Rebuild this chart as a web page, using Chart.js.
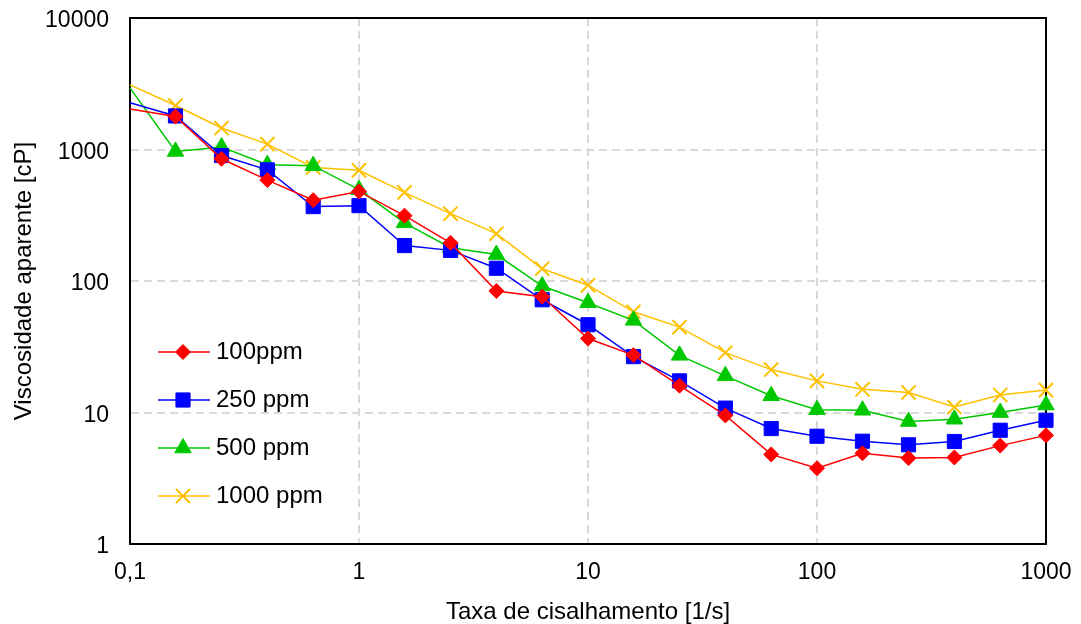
<!DOCTYPE html>
<html lang="pt">
<head>
<meta charset="utf-8">
<title>Viscosidade aparente</title>
<script src="https://cdn.jsdelivr.net/npm/chart.js@4/dist/chart.umd.min.js"></script>
<style>
  html, body { margin: 0; padding: 0; background: #fff; }
  canvas { display: block; }
</style>
</head>
<body>
<canvas id="viscosidadeChart" width="1081" height="624"></canvas>
<script>
// Taxa de cisalhamento [1/s] (5 pontos por década)
const taxaCisalhamento = [0.1, 0.158, 0.251, 0.398, 0.631, 1, 1.58, 2.51, 3.98, 6.31,
    10, 15.8, 25.1, 39.8, 63.1, 100, 158, 251, 398, 631, 1000];

// Viscosidade aparente [cP] para cada concentração
const visc100ppm = [2030, 1780, 850, 585, 412, 480, 314, 195, 84, 76,
    36.5, 27.3, 16, 9.5, 4.8, 3.77, 4.9, 4.5, 4.55, 5.6, 6.7];
const visc250ppm = [2265, 1800, 900, 700, 368, 374, 186, 171, 125, 72,
    46.5, 26.6, 17.4, 10.8, 7.55, 6.6, 6.05, 5.68, 6.02, 7.33, 8.73];
const visc500ppm = [2945, 966, 1043, 766, 753, 495, 277, 179, 159, 91.5,
    68.4, 50.2, 27.2, 19, 13.4, 10.5, 10.4, 8.53, 8.89, 10, 11.4];
const visc1000ppm = [3100, 2160, 1456, 1099, 731, 694, 472, 325, 229, 124,
    92.9, 58.3, 44.6, 28.5, 21.2, 17.4, 15, 14.2, 11, 13.6, 14.8];

const rotulosSeries = ['100ppm', '250 ppm', '500 ppm', '1000 ppm'];

// Marcas dos eixos
const ticksX = [0.1, 1, 10, 100, 1000];
const ticksY = [1, 10, 100, 1000, 10000];

const FONTE = "'Liberation Sans', Arial, sans-serif";

const estilos = [
    { cor: '#FF0000', ponto: 'rectRot', raio: 7.5 },
    { cor: '#0000FF', ponto: 'rect', raio: 10 },
    { cor: '#00C800', ponto: 'triangle', raio: 9.5 },
    { cor: '#FFC000', ponto: 'crossRot', raio: 10 }
];

function montarSerie(valores, i) {
    const e = estilos[i];
    return {
        label: rotulosSeries[i],
        data: taxaCisalhamento.map((x, k) => ({ x: x, y: valores[k] })),
        borderColor: e.cor,
        backgroundColor: e.cor,
        borderWidth: 1.5,
        pointStyle: e.ponto,
        // o primeiro ponto fica sem marcador, só a linha
        pointRadius: ctx => ctx.dataIndex === 0 ? 0 : e.raio,
        pointBorderWidth: e.ponto === 'crossRot' ? 2 : 1,
        pointHoverRadius: e.raio,
        tension: 0,
        clip: 14
    };
}

// Moldura completa da área do gráfico (topo e direita)
const moldura = {
    id: 'moldura',
    beforeDatasetsDraw(chart) {
        const { ctx, chartArea: a } = chart;
        ctx.save();
        ctx.strokeStyle = '#000';
        ctx.lineWidth = 2;
        ctx.strokeRect(a.left, a.top, a.right - a.left, a.bottom - a.top);
        ctx.restore();
    }
};

// Legenda desenhada dentro da área do gráfico
const legendaInterna = {
    id: 'legendaInterna',
    afterDatasetsDraw(chart) {
        const { ctx, chartArea: a } = chart;
        const x0 = a.left + 28, x1 = a.left + 80, xm = a.left + 53;
        ctx.save();
        chart.data.datasets.forEach((ds, i) => {
            const y = 352 + i * 48;
            const e = estilos[i];
            ctx.strokeStyle = e.cor;
            ctx.fillStyle = e.cor;
            ctx.lineWidth = 1.5;
            ctx.beginPath();
            ctx.moveTo(x0, y);
            ctx.lineTo(x1, y);
            ctx.stroke();
            ctx.lineWidth = e.ponto === 'crossRot' ? 2 : 1;
            Chart.helpers.drawPoint(ctx, {
                pointStyle: e.ponto, radius: e.raio, rotation: 0, borderWidth: ctx.lineWidth
            }, xm, y);
            ctx.fillStyle = '#000';
            ctx.font = '24px ' + FONTE;
            ctx.textAlign = 'left';
            ctx.textBaseline = 'middle';
            ctx.fillText(ds.label, a.left + 86, y);
        });
        ctx.restore();
    }
};

const formatarNumero = v => String(v).replace('.', ',');

const ctx = document.getElementById('viscosidadeChart').getContext('2d');
const grafico = new Chart(ctx, {
    type: 'line',
    data: {
        datasets: [visc100ppm, visc250ppm, visc500ppm, visc1000ppm].map(montarSerie)
    },
    options: {
        responsive: false,
        animation: false,
        layout: { autoPadding: false, padding: { top: 18, right: 35, left: 0, bottom: 0 } },
        plugins: {
            legend: { display: false },
            tooltip: { enabled: false }
        },
        scales: {
            x: {
                type: 'logarithmic',
                min: 0.1,
                max: 1000,
                afterBuildTicks: s => { s.ticks = ticksX.map(v => ({ value: v, major: true })); },
                afterFit: s => { s.height = 80; s.paddingLeft = 0; s.paddingRight = 0; },
                grid: { color: '#D9D9D9', lineWidth: 2, drawTicks: false },
                border: { display: true, color: '#000', width: 2, dash: [8, 5] },
                ticks: {
                    color: '#000',
                    padding: 15,
                    maxRotation: 0,
                    autoSkip: false,
                    font: { family: FONTE, size: 23 },
                    callback: v => formatarNumero(v)
                },
                title: {
                    display: true,
                    text: 'Taxa de cisalhamento [1/s]',
                    color: '#000',
                    font: { family: FONTE, size: 24 },
                    padding: { top: 0, bottom: -3 }
                }
            },
            y: {
                type: 'logarithmic',
                min: 1,
                max: 10000,
                afterBuildTicks: s => { s.ticks = ticksY.map(v => ({ value: v, major: true })); },
                afterFit: s => { s.width = 130; s.paddingTop = 0; s.paddingBottom = 0; },
                grid: { color: '#D9D9D9', lineWidth: 2, drawTicks: false },
                border: { display: true, color: '#000', width: 2, dash: [8, 5] },
                ticks: {
                    color: '#000',
                    padding: 21,
                    labelOffset: 3,
                    autoSkip: false,
                    font: { family: FONTE, size: 23 },
                    callback: v => formatarNumero(v)
                },
                title: {
                    display: true,
                    text: 'Viscosidade aparente [cP]',
                    color: '#000',
                    font: { family: FONTE, size: 24 },
                    padding: { top: 10, bottom: 0 }
                }
            }
        }
    },
    plugins: [moldura, legendaInterna]
});
</script>
</body>
</html>
